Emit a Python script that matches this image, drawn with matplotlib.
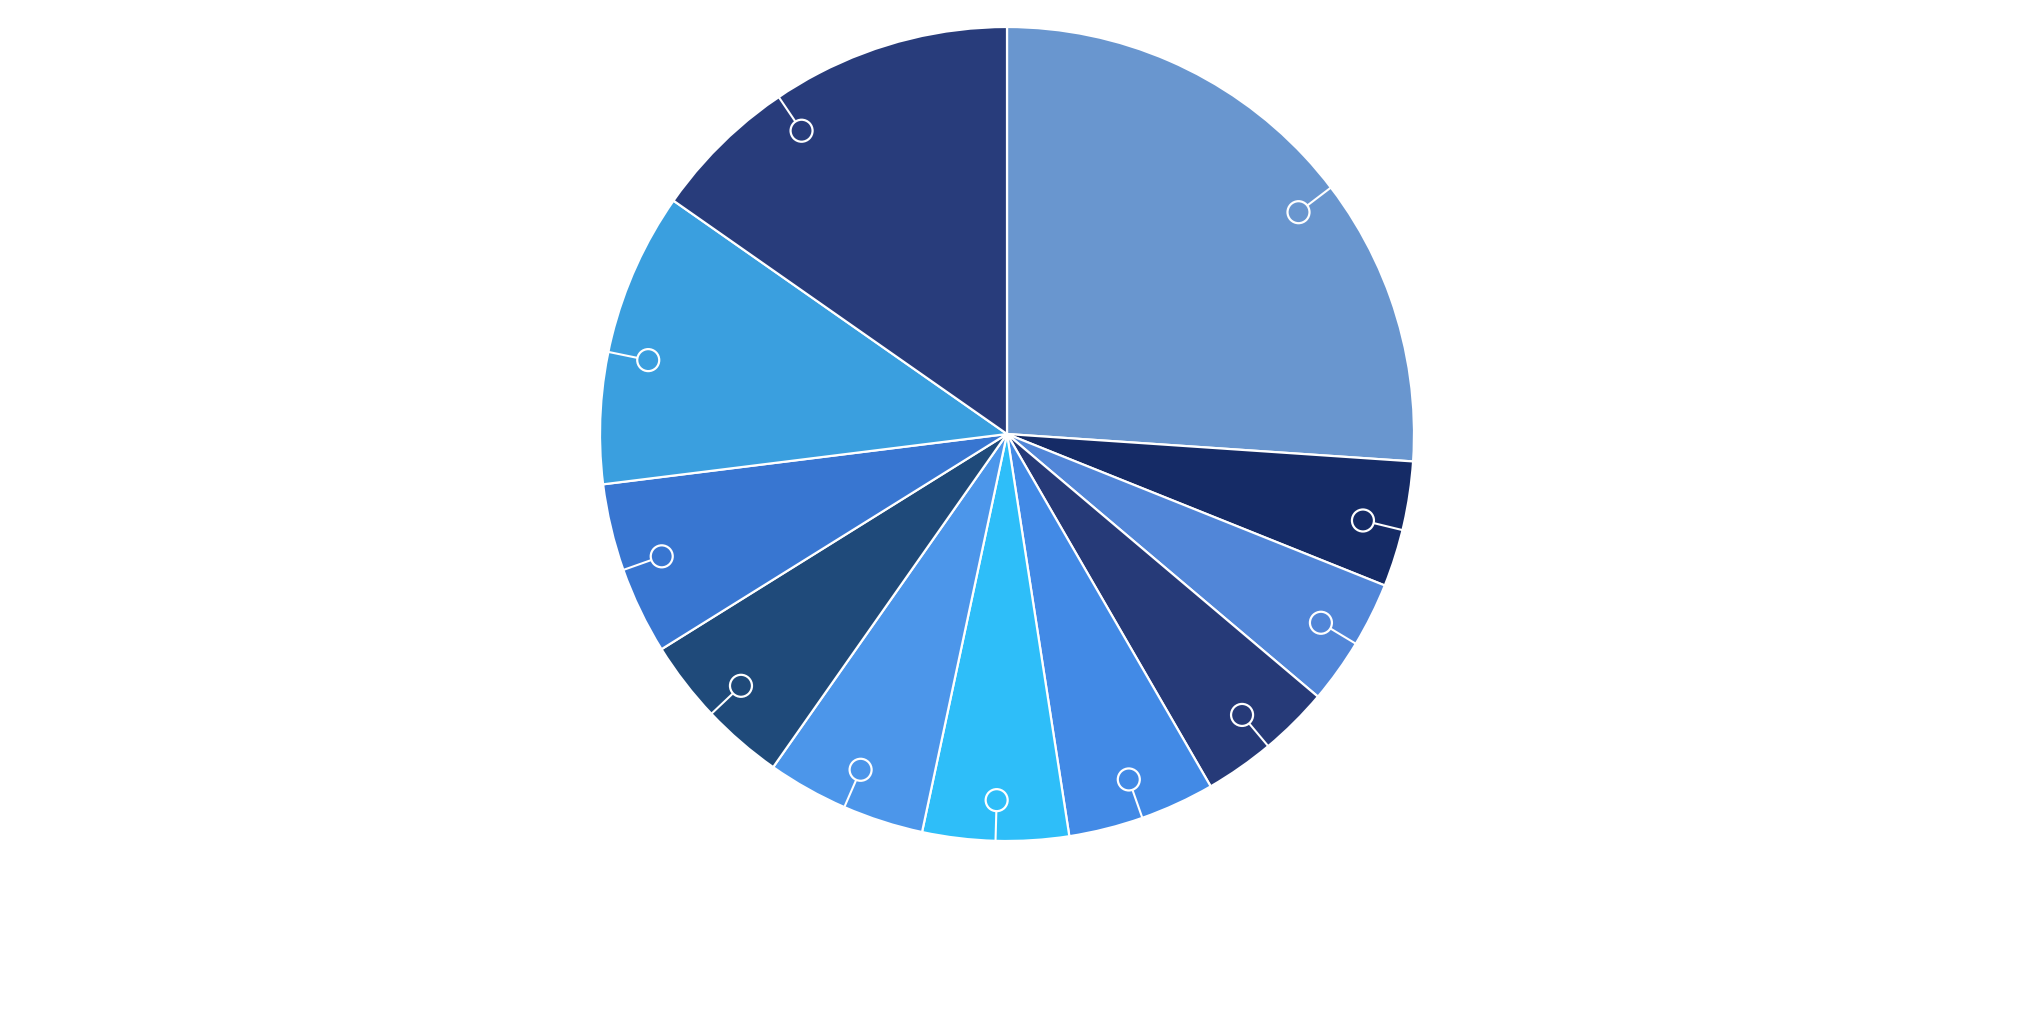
import numpy as np
import matplotlib
matplotlib.use("Agg")
import matplotlib.pyplot as plt

# ---- data ----
categories = ["A", "B", "C", "D", "E", "F", "G", "H", "I", "J", "K"]
values = [26.1, 5.0, 5.1, 5.5, 5.9, 5.8, 6.4, 6.4, 6.9, 11.7, 15.3]
colors = ["#6996cf", "#152b66", "#5186d8", "#263a78", "#428ae6", "#2ebef9",
          "#4c96ea", "#1f4a7a", "#3876d1", "#3a9fdf", "#283c7b"]

W, H = 2026, 1031
fig = plt.figure(figsize=(W / 100, H / 100), dpi=100)
ax = fig.add_axes([0, 0, 1, 1])

cx, cy, R = 1007, H - 434, 407
wedges, _ = ax.pie(values, colors=colors, startangle=90, counterclock=False,
                   center=(cx, cy), radius=R, frame=True,
                   wedgeprops=dict(edgecolor="white", linewidth=1.6))
ax.set_xlim(0, W)
ax.set_ylim(0, H)
ax.set_aspect("equal")
ax.axis("off")

# label-anchor angle nudges (layout only, degrees)
nudge = [-5.8, -0.8, 0, 0, 0, 0, 0, 0, 0, 2.3, 6.6]
mr = 0.90 * R
cr = 11
for w, dn in zip(wedges, nudge):
    ang = np.deg2rad((w.theta1 + w.theta2) / 2 + dn)
    ux, uy = np.cos(ang), np.sin(ang)
    px, py = cx + mr * ux, cy + mr * uy
    ax.plot([cx + R * ux, px + cr * ux], [cy + R * uy, py + cr * uy],
            color="white", lw=1.5, solid_capstyle="butt", zorder=5)
    ax.add_patch(plt.Circle((px, py), cr, facecolor="none", edgecolor="white",
                            lw=1.6, zorder=6))

fig.savefig("out.png", dpi=100)
